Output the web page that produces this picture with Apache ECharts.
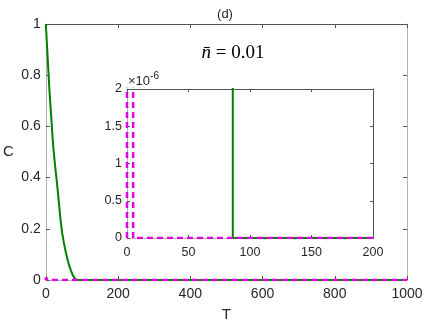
<!DOCTYPE html>
<html>
<head>
<meta charset="utf-8">
<script src="https://cdn.jsdelivr.net/npm/echarts@6/dist/echarts.min.js"></script>
<style>
  html, body { margin: 0; padding: 0; background: #fff; }
  #chart { width: 436px; height: 327px; }
</style>
</head>
<body>
<div id="chart"></div>
<script>
// green curve (solid)
var tGreen = [0, 5, 10, 15, 20, 25, 30, 35, 40, 45, 50, 55, 60, 65, 70, 75, 80, 86, 1000];
var cGreen = [1, 0.87, 0.74, 0.635, 0.53, 0.455, 0.39, 0.32, 0.245, 0.185, 0.145, 0.11, 0.08, 0.055, 0.035, 0.018, 0.006, 0, 0];
// magenta curve (dashed)
var tMag = [0, 0, 5, 5, 1000];
var cMag = [0, 0.01, 0.01, 0, 0];

function pairs(xs, ys) {
    var out = [];
    for (var i = 0; i < xs.length; i++) out.push([xs[i], ys[i]]);
    return out;
}

var green = '#008000';
var magenta = '#e000e0';
var font = 'Liberation Sans';
var labelColor = '#262626';

function axisBase(extra) {
    var a = {
        type: 'value',
        axisLine: { show: true, onZero: false, lineStyle: { color: '#b3b3b3', width: 1 } },
        axisTick: { show: true, inside: true, length: 4, lineStyle: { color: '#555' } },
        splitLine: { show: false },
        axisLabel: { show: false }
    };
    for (var k in extra) a[k] = extra[k];
    return a;
}

function plain(v) { return String(parseFloat(v.toFixed(4))); }

var myChart = echarts.init(document.getElementById('chart'));
myChart.setOption({
    animation: false,
    backgroundColor: '#fff',
    grid: [
        { left: 45, top: 24, right: 29, bottom: 39, show: false },
        { left: 127, top: 89, right: 63, bottom: 89, show: true, backgroundColor: '#fff', borderWidth: 0 }
    ],
    xAxis: [
        axisBase({
            gridIndex: 0, min: 0, max: 1000, interval: 200, position: 'bottom',
            axisLabel: { show: true, fontFamily: font, fontSize: 14, color: labelColor, margin: 7, formatter: plain },
            name: 'T', nameLocation: 'middle', nameGap: 27,
            nameTextStyle: { fontFamily: font, fontSize: 15, color: labelColor }
        }),
        axisBase({
            gridIndex: 0, min: 0, max: 1000, interval: 200, position: 'top',
            axisLine: { show: true, onZero: false, lineStyle: { color: '#555', width: 1 } }
        }),
        axisBase({
            gridIndex: 1, min: 0, max: 200, interval: 50, position: 'bottom',
            axisTick: { show: true, inside: true, length: 3, lineStyle: { color: '#555' } },
            axisLabel: { show: true, fontFamily: font, fontSize: 12.5, color: labelColor, margin: 8, formatter: plain }
        }),
        axisBase({
            gridIndex: 1, min: 0, max: 200, interval: 50, position: 'top',
            axisTick: { show: true, inside: true, length: 3, lineStyle: { color: '#555' } },
            axisLine: { show: true, onZero: false, lineStyle: { color: '#555', width: 1 } }
        })
    ],
    yAxis: [
        axisBase({
            gridIndex: 0, min: 0, max: 1, interval: 0.2, position: 'left',
            axisLabel: { show: true, fontFamily: font, fontSize: 14, color: labelColor, margin: 5, formatter: plain },
            name: 'C', nameLocation: 'middle', nameGap: 32, nameRotate: 0,
            nameTextStyle: { fontFamily: font, fontSize: 15, color: labelColor }
        }),
        axisBase({
            gridIndex: 0, min: 0, max: 1, interval: 0.2, position: 'right'
        }),
        axisBase({
            gridIndex: 1, min: 0, max: 2e-6, interval: 0.5e-6, position: 'left',
            axisTick: { show: true, inside: true, length: 3, lineStyle: { color: '#555' } },
            axisLabel: {
                show: true, fontFamily: font, fontSize: 12.5, color: labelColor, margin: 5,
                formatter: function (v) { return plain(v * 1e6); }
            }
        }),
        axisBase({
            gridIndex: 1, min: 0, max: 2e-6, interval: 0.5e-6, position: 'right',
            axisTick: { show: true, inside: true, length: 3, lineStyle: { color: '#555' } },
            axisLine: { show: true, onZero: false, lineStyle: { color: '#555', width: 1 } }
        })
    ],
    graphic: [
        { type: 'text', x: 225, y: 14, style: { text: '(d)', font: '13px ' + font, fill: labelColor, textAlign: 'center', textVerticalAlign: 'middle' } },
        {
            type: 'text', x: 233, y: 53,
            style: {
                text: '{n|n\u0304}{r| = 0.01}',
                textAlign: 'center', textVerticalAlign: 'middle',
                rich: {
                    n: { fontFamily: 'Liberation Serif', fontStyle: 'italic', fontSize: 19, fill: '#000' },
                    r: { fontFamily: 'Liberation Serif', fontSize: 19, fill: '#000' }
                }
            }
        },
        {
            type: 'text', x: 128, y: 81,
            style: {
                text: '{a|\u00d710}{b|-6}',
                textVerticalAlign: 'middle',
                rich: {
                    a: { fontFamily: font, fontSize: 13, fill: labelColor },
                    b: { fontFamily: font, fontSize: 10, fill: labelColor, verticalAlign: 'top', padding: [0, 0, 9, 0] }
                }
            }
        }
    ],
    series: [
        {
            type: 'line', xAxisIndex: 0, yAxisIndex: 0, symbol: 'none',
            lineStyle: { color: green, width: 2 }, data: pairs(tGreen, cGreen), z: 3
        },
        {
            type: 'line', xAxisIndex: 0, yAxisIndex: 0, symbol: 'none',
            lineStyle: { color: magenta, width: 2.5, type: [6, 4] }, data: pairs(tMag, cMag), z: 4
        },
        {
            type: 'line', xAxisIndex: 2, yAxisIndex: 2, symbol: 'none', clip: true,
            lineStyle: { color: green, width: 2 }, data: pairs(tGreen, cGreen), z: 3
        },
        {
            type: 'line', xAxisIndex: 2, yAxisIndex: 2, symbol: 'none', clip: true,
            lineStyle: { color: magenta, width: 2.5, type: [6, 4] }, data: pairs(tMag, cMag), z: 4
        }
    ]
});
</script>
</body>
</html>
